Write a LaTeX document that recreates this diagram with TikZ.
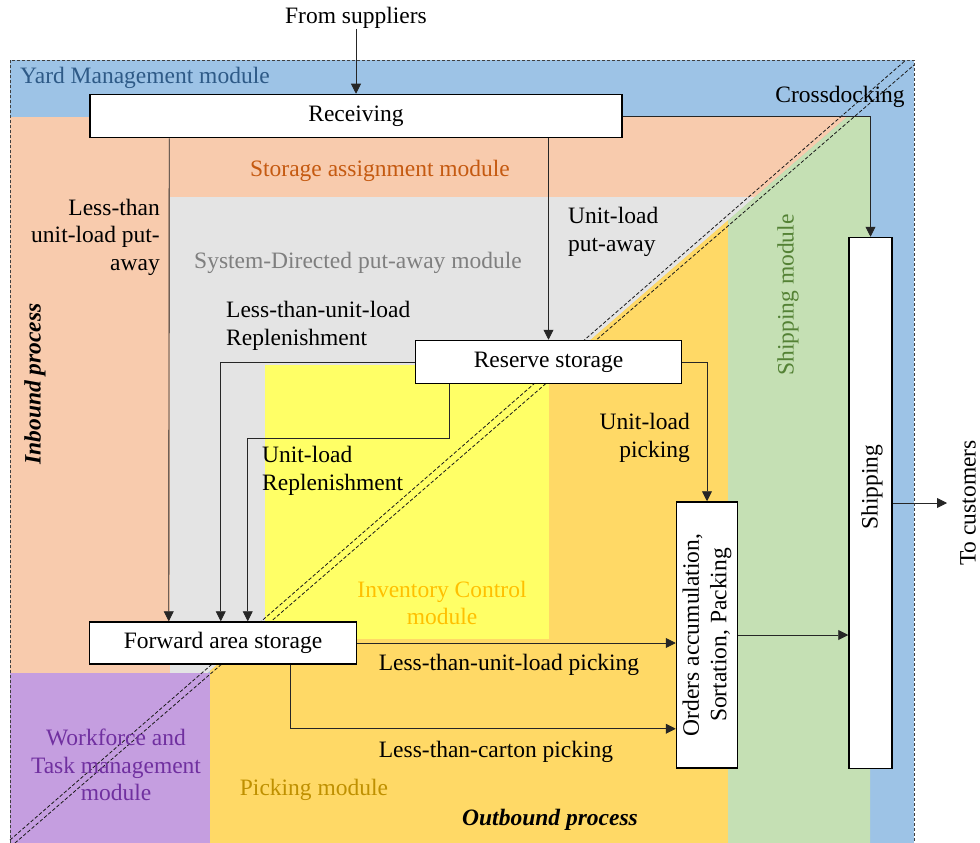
\documentclass[tikz,border=0pt]{standalone}
\usepackage{fontspec}
\setmainfont{Liberation Serif}
\usetikzlibrary{arrows.meta}

\definecolor{yardfill}{HTML}{9DC3E6}
\definecolor{storfill}{HTML}{F8CBAD}
\definecolor{sysfill}{HTML}{E4E4E4}
\definecolor{pickfill}{HTML}{FFD966}
\definecolor{shipfill}{HTML}{C5E0B4}
\definecolor{workfill}{HTML}{C59EE0}
\definecolor{invfill}{HTML}{FFFF66}
\definecolor{yardtxt}{HTML}{2E5A87}
\definecolor{stortxt}{HTML}{C55A11}
\definecolor{systxt}{HTML}{7F7F7F}
\definecolor{picktxt}{HTML}{BF9000}
\definecolor{shiptxt}{HTML}{548235}
\definecolor{worktxt}{HTML}{7030A0}
\definecolor{invtxt}{HTML}{FFC000}

\begin{document}
\begin{tikzpicture}[x=1pt,y=-1pt,
  font=\fontsize{23.5}{27.5}\selectfont,
  procbox/.style={draw=black, line width=1.5pt, fill=white, inner sep=0pt},
  lbl/.style={inner sep=0pt},
  arr/.style={draw=black!85, line width=0.9pt, -{Triangle[length=10pt,width=10pt]}},
  diag/.style={draw=black!90, line width=0.8pt, dash pattern=on 3.5pt off 2pt},
  frame/.style={draw=black!75, line width=0.8pt, dash pattern=on 3pt off 2pt}]

\useasboundingbox (0,0) rectangle (980,843);

% module areas
\fill[yardfill] (10,60) rectangle (914,843);
\fill[storfill] (10,117) -- (847,117) -- (12,843) -- (10,843) -- cycle;
\fill[sysfill] (170,197) -- (755,197) -- (207.5,673) -- (170,673) -- cycle;
\fill[pickfill] (210,670.8) -- (728,220.3) -- (728,843) -- (210,843) -- cycle;
\fill[shipfill] (728,220.3) -- (847,117) -- (870,117) -- (870,843) -- (728,843) -- cycle;
\fill[workfill] (10,673) rectangle (210,843);
\fill[invfill] (265,365) rectangle (549,639);

% inbound / outbound split
\coordinate (da1) at (10,840);
\coordinate (da2) at (906,60);
\coordinate (db1) at (15,843);
\coordinate (db2) at (914,65);
\draw[diag] (da1) -- (da2);
\draw[diag] (db1) -- (db2);

% warehouse frame
\draw[frame] (10,843) -- (10,60) -- (914,60) -- (914,843);

% module names
\node[lbl, anchor=west, text=yardtxt] (yardlbl) at (20,78) {Yard Management module};
\node[lbl, text=stortxt] (storlbl) at (380,171) {Storage assignment module};
\node[lbl, text=systxt] (syslbl) at (358,263) {System-Directed put-away module};
\node[lbl, text=invtxt, align=center] (invlbl) at (442,603) {Inventory Control\\module};
\node[lbl, text=picktxt] (picklbl) at (314,790) {Picking module};
\node[lbl, text=worktxt, align=center] (worklbl) at (116,765) {Workforce and\\Task management\\module};
\node[lbl, text=shiptxt, rotate=90] (shiplbl) at (788,295) {Shipping module};
\node[lbl, font=\fontsize{23.5}{27.5}\selectfont\bfseries\itshape, rotate=90] (inlbl) at (35,384) {Inbound process};
\node[lbl, font=\fontsize{23.5}{27.5}\selectfont\bfseries\itshape] (outlbl) at (550,820) {Outbound process};

% process boxes
\node[procbox, minimum width=532pt, minimum height=43pt] (recv) at (356,116) {Receiving};
\node[procbox, minimum width=266pt, minimum height=43pt] (res) at (548.5,362) {Reserve storage};
\node[procbox, minimum width=267pt, minimum height=42pt] (fwd) at (223,643) {Forward area storage};
\node[procbox, minimum width=61pt, minimum height=266pt] (orders) at (707,635) {};
\node[lbl, rotate=90, align=center] (orderstxt) at (orders.center) {Orders accumulation,\\Sortation, Packing};
\node[procbox, minimum width=43pt, minimum height=531pt] (ship) at (870.5,503) {};
\node[lbl, rotate=90] (shiptxt) at (872,487) {Shipping};

% end points outside the warehouse
\node[lbl] (sup) at (356,18) {From suppliers};
\coordinate (cust) at (947,503);
\node[lbl, rotate=90] (custlbl) at (968,503) {To customers};

% flows
\draw[arr] (sup.south) -- (recv.north);
\draw[arr] ([xshift=80pt]recv.south west) -- ([xshift=80pt]fwd.north west);
\draw[arr] (recv.south -| res.north) -- (res.north);
\draw[arr] (recv.east) -| (ship.north);
\draw[arr] (res.west) -| ([xshift=132pt]fwd.north west);
\draw[arr] ([xshift=35pt]res.south west) -- ++(0,54) -| ([xshift=159pt]fwd.north west);
\draw[arr] (res.east) -| (orders.north);
\draw[arr] (fwd.east) -- (fwd.east -| orders.west);
\draw[arr] ([xshift=202pt]fwd.south west) |- ([yshift=40pt]orders.south west);
\draw[arr] (orders.east) -- (orders.east -| ship.west);
\draw[arr] (ship.east) -- (cust);

% flow labels
\node[lbl] (xdock) at (840,97) {Crossdocking};
\node[lbl, anchor=east, align=right] (ltlput) at (160,237) {Less-than\\unit-load put-\\away};
\node[lbl, anchor=west, align=left] (ulput) at (568,232) {Unit-load\\put-away};
\node[lbl, anchor=west, align=left] (ltlrep) at (226,326) {Less-than-unit-load\\Replenishment};
\node[lbl, anchor=west, align=left] (ulrep) at (262,471) {Unit-load\\Replenishment};
\node[lbl, anchor=east, align=right] (ulpick) at (690,438) {Unit-load\\picking};
\node[lbl] (ltlpick) at (509,665) {Less-than-unit-load picking};
\node[lbl] (ltcpick) at (496,752) {Less-than-carton picking};

\end{tikzpicture}
\end{document}
